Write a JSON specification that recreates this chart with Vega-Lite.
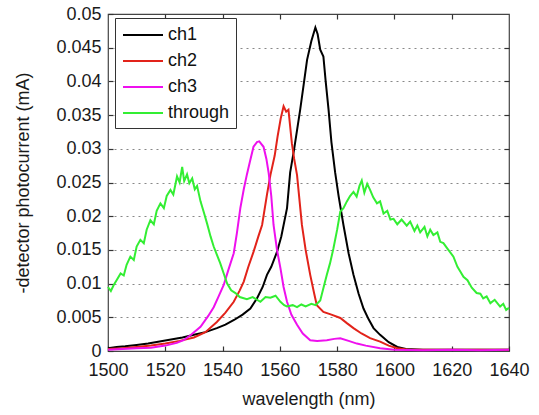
{
  "$schema": "https://vega.github.io/schema/vega-lite/v6.json",
  "width": 401,
  "height": 337,
  "autosize": "none",
  "padding": {"left": 108, "top": 14, "right": 30, "bottom": 64},
  "background": "white",
  "config": {
    "view": {"stroke": "#444444", "strokeWidth": 1.2},
    "font": "Liberation Sans",
    "axis": {"labelFont": "Liberation Sans", "titleFont": "Liberation Sans", "labelColor": "#1a1a1a", "titleColor": "#1a1a1a", "domain": false},
    "legend": {"labelFont": "Liberation Sans"}
  },
  "data": {"values": [
      {"s":"ch1","wl":1500,"v":0.0004},{"s":"ch1","wl":1503,"v":0.0006},{"s":"ch1","wl":1506,"v":0.0007},{"s":"ch1","wl":1510,"v":0.0009},{"s":"ch1","wl":1514,"v":0.0011},{"s":"ch1","wl":1518,"v":0.0014},{"s":"ch1","wl":1522,"v":0.0017},{"s":"ch1","wl":1526,"v":0.002},{"s":"ch1","wl":1530,"v":0.0024},{"s":"ch1","wl":1534,"v":0.0028},{"s":"ch1","wl":1538,"v":0.0034},{"s":"ch1","wl":1541,"v":0.0039},{"s":"ch1","wl":1544,"v":0.0046},{"s":"ch1","wl":1547,"v":0.0054},{"s":"ch1","wl":1549.7,"v":0.0063},{"s":"ch1","wl":1552,"v":0.0078},{"s":"ch1","wl":1554,"v":0.0095},{"s":"ch1","wl":1555.5,"v":0.0113},{"s":"ch1","wl":1557,"v":0.0125},{"s":"ch1","wl":1559,"v":0.0147},{"s":"ch1","wl":1560.5,"v":0.017},{"s":"ch1","wl":1562.5,"v":0.0212},{"s":"ch1","wl":1563.6,"v":0.0265},{"s":"ch1","wl":1565,"v":0.03},{"s":"ch1","wl":1567.1,"v":0.0358},{"s":"ch1","wl":1568.3,"v":0.0395},{"s":"ch1","wl":1569.5,"v":0.0432},{"s":"ch1","wl":1571,"v":0.046},{"s":"ch1","wl":1572.4,"v":0.048},{"s":"ch1","wl":1573.2,"v":0.047},{"s":"ch1","wl":1574.1,"v":0.0447},{"s":"ch1","wl":1575.2,"v":0.0437},{"s":"ch1","wl":1576,"v":0.04},{"s":"ch1","wl":1577,"v":0.0358},{"s":"ch1","wl":1578,"v":0.031},{"s":"ch1","wl":1579.3,"v":0.0265},{"s":"ch1","wl":1580.5,"v":0.023},{"s":"ch1","wl":1582.2,"v":0.0187},{"s":"ch1","wl":1584,"v":0.0145},{"s":"ch1","wl":1585.7,"v":0.0113},{"s":"ch1","wl":1587.5,"v":0.0085},{"s":"ch1","wl":1589.2,"v":0.0063},{"s":"ch1","wl":1591,"v":0.0047},{"s":"ch1","wl":1592.7,"v":0.0034},{"s":"ch1","wl":1595,"v":0.0024},{"s":"ch1","wl":1598,"v":0.0013},{"s":"ch1","wl":1601,"v":0.0006},{"s":"ch1","wl":1604,"v":0.0003},{"s":"ch1","wl":1610,"v":0.0002},{"s":"ch1","wl":1620,"v":0.0002},{"s":"ch1","wl":1630,"v":0.0002},{"s":"ch1","wl":1640,"v":0.0002},
      {"s":"ch2","wl":1500,"v":0.0003},{"s":"ch2","wl":1505,"v":0.0004},{"s":"ch2","wl":1510,"v":0.0006},{"s":"ch2","wl":1515,"v":0.0008},{"s":"ch2","wl":1520,"v":0.0011},{"s":"ch2","wl":1525,"v":0.0015},{"s":"ch2","wl":1530,"v":0.002},{"s":"ch2","wl":1534,"v":0.0028},{"s":"ch2","wl":1538,"v":0.0043},{"s":"ch2","wl":1541,"v":0.0057},{"s":"ch2","wl":1543.9,"v":0.0073},{"s":"ch2","wl":1546,"v":0.009},{"s":"ch2","wl":1547.4,"v":0.0103},{"s":"ch2","wl":1549,"v":0.0125},{"s":"ch2","wl":1550.8,"v":0.0147},{"s":"ch2","wl":1552.5,"v":0.017},{"s":"ch2","wl":1553.8,"v":0.0187},{"s":"ch2","wl":1555.5,"v":0.0232},{"s":"ch2","wl":1556.7,"v":0.0261},{"s":"ch2","wl":1558.2,"v":0.029},{"s":"ch2","wl":1559.2,"v":0.0318},{"s":"ch2","wl":1560.3,"v":0.0345},{"s":"ch2","wl":1561.3,"v":0.0363},{"s":"ch2","wl":1562.2,"v":0.0355},{"s":"ch2","wl":1563,"v":0.0358},{"s":"ch2","wl":1564.2,"v":0.0308},{"s":"ch2","wl":1565,"v":0.0285},{"s":"ch2","wl":1566,"v":0.0261},{"s":"ch2","wl":1567.7,"v":0.0187},{"s":"ch2","wl":1569,"v":0.015},{"s":"ch2","wl":1570.6,"v":0.0113},{"s":"ch2","wl":1572,"v":0.0085},{"s":"ch2","wl":1572.9,"v":0.0068},{"s":"ch2","wl":1575.2,"v":0.0058},{"s":"ch2","wl":1578,"v":0.0054},{"s":"ch2","wl":1581.1,"v":0.0049},{"s":"ch2","wl":1583.5,"v":0.0041},{"s":"ch2","wl":1585.7,"v":0.0034},{"s":"ch2","wl":1588.5,"v":0.0026},{"s":"ch2","wl":1591.5,"v":0.0019},{"s":"ch2","wl":1595,"v":0.0014},{"s":"ch2","wl":1598,"v":0.0008},{"s":"ch2","wl":1601,"v":0.0004},{"s":"ch2","wl":1605,"v":0.0002},{"s":"ch2","wl":1615,"v":0.0002},{"s":"ch2","wl":1625,"v":0.0002},{"s":"ch2","wl":1640,"v":0.0002},
      {"s":"ch3","wl":1500,"v":0.0002},{"s":"ch3","wl":1505,"v":0.0003},{"s":"ch3","wl":1510,"v":0.0004},{"s":"ch3","wl":1515,"v":0.0005},{"s":"ch3","wl":1520,"v":0.0008},{"s":"ch3","wl":1524,"v":0.0012},{"s":"ch3","wl":1526.4,"v":0.0016},{"s":"ch3","wl":1529,"v":0.0024},{"s":"ch3","wl":1532.3,"v":0.0036},{"s":"ch3","wl":1535,"v":0.0052},{"s":"ch3","wl":1536.9,"v":0.0065},{"s":"ch3","wl":1538.5,"v":0.008},{"s":"ch3","wl":1540.4,"v":0.0098},{"s":"ch3","wl":1542,"v":0.012},{"s":"ch3","wl":1543.9,"v":0.0145},{"s":"ch3","wl":1545,"v":0.0175},{"s":"ch3","wl":1546.2,"v":0.0212},{"s":"ch3","wl":1547.4,"v":0.024},{"s":"ch3","wl":1548.5,"v":0.0262},{"s":"ch3","wl":1549.5,"v":0.028},{"s":"ch3","wl":1550.8,"v":0.0303},{"s":"ch3","wl":1552,"v":0.031},{"s":"ch3","wl":1552.8,"v":0.0311},{"s":"ch3","wl":1554.3,"v":0.0303},{"s":"ch3","wl":1555.3,"v":0.0285},{"s":"ch3","wl":1556.1,"v":0.0264},{"s":"ch3","wl":1557,"v":0.023},{"s":"ch3","wl":1557.8,"v":0.0187},{"s":"ch3","wl":1559,"v":0.015},{"s":"ch3","wl":1560.2,"v":0.0123},{"s":"ch3","wl":1561.3,"v":0.0095},{"s":"ch3","wl":1562.5,"v":0.0073},{"s":"ch3","wl":1564,"v":0.0054},{"s":"ch3","wl":1566,"v":0.0039},{"s":"ch3","wl":1568,"v":0.0026},{"s":"ch3","wl":1570.6,"v":0.0016},{"s":"ch3","wl":1573,"v":0.0015},{"s":"ch3","wl":1576.4,"v":0.0016},{"s":"ch3","wl":1579,"v":0.0018},{"s":"ch3","wl":1581.1,"v":0.0019},{"s":"ch3","wl":1584,"v":0.0015},{"s":"ch3","wl":1586.9,"v":0.0011},{"s":"ch3","wl":1590,"v":0.0008},{"s":"ch3","wl":1595,"v":0.0004},{"s":"ch3","wl":1600,"v":0.0002},{"s":"ch3","wl":1610,"v":0.0001},{"s":"ch3","wl":1620,"v":0.0002},{"s":"ch3","wl":1630,"v":0.0001},{"s":"ch3","wl":1640,"v":0.0002},
      {"s":"through","wl":1500,"v":0.0095},{"s":"through","wl":1501,"v":0.0089},{"s":"through","wl":1502,"v":0.0098},{"s":"through","wl":1503,"v":0.0105},{"s":"through","wl":1504.4,"v":0.0115},{"s":"through","wl":1505.5,"v":0.0112},{"s":"through","wl":1506.5,"v":0.0128},{"s":"through","wl":1507.8,"v":0.014},{"s":"through","wl":1509,"v":0.0135},{"s":"through","wl":1510,"v":0.0155},{"s":"through","wl":1511.3,"v":0.0165},{"s":"through","wl":1512.5,"v":0.016},{"s":"through","wl":1513.5,"v":0.018},{"s":"through","wl":1514.8,"v":0.0194},{"s":"through","wl":1516,"v":0.0188},{"s":"through","wl":1517,"v":0.0208},{"s":"through","wl":1518.3,"v":0.0219},{"s":"through","wl":1519.5,"v":0.0212},{"s":"through","wl":1520.5,"v":0.023},{"s":"through","wl":1521.8,"v":0.0239},{"s":"through","wl":1522.8,"v":0.0232},{"s":"through","wl":1524.1,"v":0.0259},{"s":"through","wl":1525,"v":0.025},{"s":"through","wl":1525.9,"v":0.0273},{"s":"through","wl":1526.6,"v":0.0252},{"s":"through","wl":1527.6,"v":0.0262},{"s":"through","wl":1528.4,"v":0.0249},{"s":"through","wl":1529.4,"v":0.0256},{"s":"through","wl":1530.3,"v":0.024},{"s":"through","wl":1531.1,"v":0.0245},{"s":"through","wl":1532.3,"v":0.0222},{"s":"through","wl":1533.5,"v":0.0205},{"s":"through","wl":1534.6,"v":0.0189},{"s":"through","wl":1535.8,"v":0.017},{"s":"through","wl":1536.9,"v":0.0155},{"s":"through","wl":1538,"v":0.0143},{"s":"through","wl":1539.2,"v":0.013},{"s":"through","wl":1540.4,"v":0.0115},{"s":"through","wl":1541.6,"v":0.01},{"s":"through","wl":1543,"v":0.009},{"s":"through","wl":1544.5,"v":0.0086},{"s":"through","wl":1546,"v":0.008},{"s":"through","wl":1548.5,"v":0.0077},{"s":"through","wl":1550.5,"v":0.008},{"s":"through","wl":1553.2,"v":0.0073},{"s":"through","wl":1555,"v":0.008},{"s":"through","wl":1556.7,"v":0.0079},{"s":"through","wl":1558.5,"v":0.0082},{"s":"through","wl":1560.2,"v":0.0073},{"s":"through","wl":1561.5,"v":0.0068},{"s":"through","wl":1562.5,"v":0.0066},{"s":"through","wl":1564.5,"v":0.0068},{"s":"through","wl":1566,"v":0.0065},{"s":"through","wl":1567.5,"v":0.0069},{"s":"through","wl":1569,"v":0.0066},{"s":"through","wl":1571,"v":0.007},{"s":"through","wl":1572.5,"v":0.0068},{"s":"through","wl":1574.1,"v":0.0075},{"s":"through","wl":1575.3,"v":0.0095},{"s":"through","wl":1576.4,"v":0.0113},{"s":"through","wl":1577.5,"v":0.013},{"s":"through","wl":1578.7,"v":0.0152},{"s":"through","wl":1580,"v":0.018},{"s":"through","wl":1581.1,"v":0.0207},{"s":"through","wl":1582.2,"v":0.0212},{"s":"through","wl":1583.4,"v":0.0222},{"s":"through","wl":1584.5,"v":0.023},{"s":"through","wl":1585.7,"v":0.0236},{"s":"through","wl":1586.8,"v":0.0229},{"s":"through","wl":1587.8,"v":0.0245},{"s":"through","wl":1588.6,"v":0.0253},{"s":"through","wl":1589.5,"v":0.0235},{"s":"through","wl":1590.5,"v":0.0248},{"s":"through","wl":1591.5,"v":0.0239},{"s":"through","wl":1592.6,"v":0.0228},{"s":"through","wl":1593.9,"v":0.0219},{"s":"through","wl":1595,"v":0.0222},{"s":"through","wl":1596.2,"v":0.0204},{"s":"through","wl":1597.5,"v":0.0208},{"s":"through","wl":1598.6,"v":0.0195},{"s":"through","wl":1599.7,"v":0.0196},{"s":"through","wl":1601,"v":0.0188},{"s":"through","wl":1602.5,"v":0.0195},{"s":"through","wl":1604.3,"v":0.0186},{"s":"through","wl":1605.5,"v":0.0192},{"s":"through","wl":1607,"v":0.0178},{"s":"through","wl":1608,"v":0.0186},{"s":"through","wl":1609,"v":0.0176},{"s":"through","wl":1610.5,"v":0.0184},{"s":"through","wl":1611.5,"v":0.017},{"s":"through","wl":1612.5,"v":0.018},{"s":"through","wl":1613.6,"v":0.0172},{"s":"through","wl":1615,"v":0.0176},{"s":"through","wl":1616,"v":0.0162},{"s":"through","wl":1617.1,"v":0.016},{"s":"through","wl":1618.5,"v":0.0152},{"s":"through","wl":1620.6,"v":0.014},{"s":"through","wl":1622,"v":0.0125},{"s":"through","wl":1623,"v":0.0118},{"s":"through","wl":1624.1,"v":0.011},{"s":"through","wl":1625.5,"v":0.0105},{"s":"through","wl":1627,"v":0.0094},{"s":"through","wl":1628.7,"v":0.0086},{"s":"through","wl":1630,"v":0.0085},{"s":"through","wl":1631,"v":0.0078},{"s":"through","wl":1632.2,"v":0.0081},{"s":"through","wl":1633.5,"v":0.0071},{"s":"through","wl":1635,"v":0.0076},{"s":"through","wl":1636.9,"v":0.0066},{"s":"through","wl":1638,"v":0.007},{"s":"through","wl":1639,"v":0.0061},{"s":"through","wl":1640,"v":0.0064}
  ]},
  "layer": [
    {
      "mark": {"type": "line", "strokeWidth": 2},
      "encoding": {
        "x": {"field": "wl", "type": "quantitative", "scale": {"domain": [1500, 1640], "nice": false, "zero": false},
          "axis": {"orient": "bottom", "values": [1500,1520,1540,1560,1580,1600,1620,1640], "format": "d", "title": "wavelength (nm)", "grid": false, "tickSize": -5, "tickColor": "#333333", "tickWidth": 1.2, "labelFontSize": 18, "labelPadding": 15, "titleFontSize": 18, "titleFontWeight": "normal", "titlePadding": 11, "labelFlush": false}},
        "y": {"field": "v", "type": "quantitative", "scale": {"domain": [0, 0.05], "nice": false, "zero": false},
          "axis": {"orient": "left", "values": [0,0.005,0.01,0.015,0.02,0.025,0.03,0.035,0.04,0.045,0.05], "format": "~g", "title": "-detector photocurrent (mA)", "grid": true, "gridDash": [2, 4], "gridColor": "#888888", "gridWidth": 1,
            "gridOpacity": {"condition": {"test": "datum.value <= 0.0001 || datum.value >= 0.0499", "value": 0}, "value": 1},
            "tickSize": -5, "tickColor": "#333333", "tickWidth": 1.2, "labelFontSize": 18, "labelPadding": 12, "titleFontSize": 18, "titleFontWeight": "normal", "titlePadding": 23, "labelFlush": false}},
        "color": {"field": "s", "type": "nominal",
          "scale": {"domain": ["ch1","ch2","ch3","through"], "range": ["#000000","#e2231a","#ee10ee","#33ee33"]},
          "legend": {"title": null, "orient": "none", "legendX": 7, "legendY": 4, "symbolType": "M-2,0H2", "symbolSize": 400, "symbolStrokeWidth": 2, "symbolOffset": 11, "labelFontSize": 18, "labelColor": "#111111", "strokeColor": "#333333", "fillColor": "white", "padding": 6, "rowPadding": 6, "labelOffset": 14}}
      }
    },
    {
      "mark": {"type": "line", "opacity": 0},
      "encoding": {
        "x": {"field": "wl", "type": "quantitative", "scale": {"domain": [1500, 1640], "nice": false, "zero": false},
          "axis": {"orient": "top", "values": [1520,1540,1560,1580,1600,1620], "labels": false, "title": null, "grid": false, "ticks": true, "tickSize": -5, "tickColor": "#333333", "tickWidth": 1.2}},
        "y": {"field": "v", "type": "quantitative", "scale": {"domain": [0, 0.05], "nice": false, "zero": false},
          "axis": {"orient": "right", "values": [0.005,0.01,0.015,0.02,0.025,0.03,0.035,0.04,0.045], "labels": false, "title": null, "grid": false, "ticks": true, "tickSize": -5, "tickColor": "#333333", "tickWidth": 1.2}},
        "detail": {"field": "s", "type": "nominal"}
      }
    }
  ],
  "resolve": {"scale": {"x": "independent", "y": "independent"}, "axis": {"x": "independent", "y": "independent"}}
}
